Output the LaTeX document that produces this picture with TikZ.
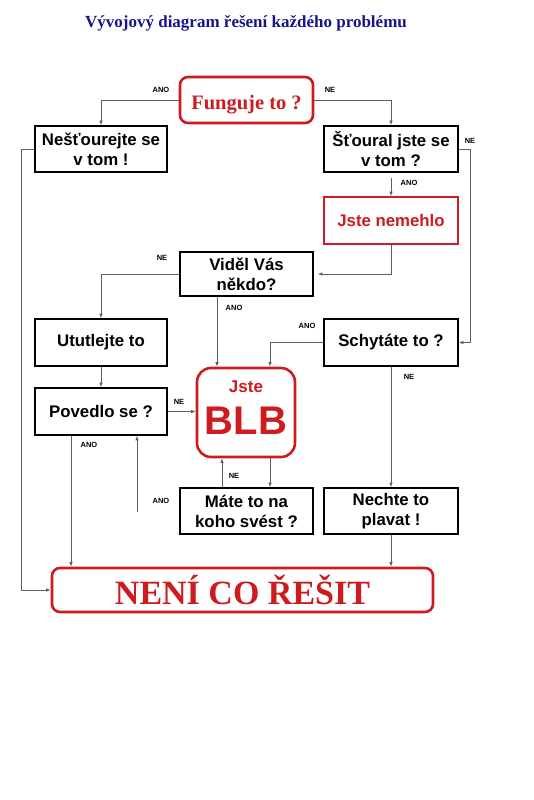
\documentclass[tikz,border=0pt]{standalone}
\usepackage{fontspec}
\setmainfont{Liberation Serif}
\setsansfont{Liberation Sans}
\usetikzlibrary{arrows.meta,calc}
\definecolor{myred}{RGB}{205,28,32}
\definecolor{myblue}{RGB}{22,22,140}
\definecolor{linegray}{RGB}{95,95,95}
\tikzset{
  box/.style={draw=black,line width=1.6pt,inner sep=0pt,align=center,
    font=\sffamily\bfseries\fontsize{16.8}{20}\selectfont},
  redbox/.style={draw=myred,line width=1.6pt,inner sep=0pt,align=center,text=myred,
    font=\sffamily\bfseries\fontsize{16.8}{20}\selectfont},
  roundred/.style={draw=myred,line width=2.6pt,rounded corners=8pt,inner sep=0pt,align=center,text=myred},
  conn/.style={draw=linegray,line width=0.8pt,-{Latex[length=4.5pt,width=3.5pt]}},
  lbl/.style={font=\sffamily\bfseries\fontsize{7.5}{8}\selectfont,inner sep=0pt}
}
\begin{document}
\begin{tikzpicture}[x=1pt,y=-1pt]
\useasboundingbox[fill=white] (0,0) rectangle (533,800);
\node[font=\rmfamily\bfseries\fontsize{17}{20}\selectfont,text=myblue] (title) at (246,23) {Vývojový diagram řešení každého problému};

\node[roundred,minimum width=133pt,minimum height=46pt,text height=21pt,text depth=2pt,font=\rmfamily\bfseries\fontsize{20.5}{24}\selectfont] (fung) at (246.5,100) {Funguje to ?};
\node[box,minimum width=132pt,minimum height=46pt] (nest) at (101,149) {Nešťourejte se\\v tom !};
\node[box,minimum width=134pt,minimum height=46pt] (stour) at (391,149) {Šťoural jste se\\v tom ?};
\node[redbox,minimum width=134pt,minimum height=47pt] (nemehlo) at (391,220.5) {Jste nemehlo};
\node[box,minimum width=133pt,minimum height=44pt] (videl) at (246.5,274) {Viděl Vás\\někdo?};
\node[box,minimum width=132pt,minimum height=47pt] (ututl) at (101,342.5) {Ututlejte to};
\node[box,minimum width=134pt,minimum height=47pt] (schyt) at (391,342.5) {Schytáte to ?};
\node[roundred,rounded corners=14pt,minimum width=98pt,minimum height=89pt,text depth=9pt,font=\sffamily\bfseries\fontsize{40}{42}\selectfont] (blb) at (246,412.5) {{\fontsize{17}{18}\selectfont Jste}\\BLB};
\node[box,minimum width=132pt,minimum height=47pt] (povedlo) at (101,411.5) {Povedlo se ?};
\node[box,minimum width=133pt,minimum height=46pt] (mate) at (246.5,511) {Máte to na\\koho svést ?};
\node[box,minimum width=134pt,minimum height=46pt] (nechte) at (391,511) {Nechte to\\plavat !};
\node[roundred,minimum width=381pt,minimum height=44pt,font=\rmfamily\bfseries\fontsize{34}{36}\selectfont] (neni) at (242.5,590) {NENÍ CO ŘEŠIT};

\coordinate (mateano) at (137,512);

% connectors
\draw[conn] (fung.west) -| (nest.north);
\draw[conn] (fung.east) -| (stour.north);
\draw[conn,shorten <=5pt] (stour.south) -- (nemehlo.north);
\draw[conn] (stour.east) -- ++(12,0) |- (schyt.east);
\draw[conn,shorten >=4pt] (nemehlo.south) |- (videl.east);
\draw[conn] (videl.west) -| (ututl.north);
\draw[conn] ([xshift=-29.5pt]videl.south) -- ([xshift=-29.5pt]videl.south |- blb.north);
\draw[conn] (schyt.west) -| ([xshift=24pt]blb.north);
\draw[conn] (schyt.south) -- (nechte.north);
\draw[conn] (ututl.south) -- (povedlo.north);
\draw[conn] (povedlo.east) -- (povedlo.east -| blb.west);
\draw[conn] ([xshift=-30pt]povedlo.south) -- ([xshift=-30pt]povedlo.south |- neni.north);
\draw[conn] (mateano) -- (mateano |- povedlo.south);
\draw[conn] ([xshift=-24.5pt]mate.north) -- ([xshift=-24.5pt]mate.north |- blb.south);
\draw[conn] ([xshift=24pt]blb.south) -- ([xshift=24pt]blb.south |- mate.north);
\draw[conn] (nechte.south) -- (nechte.south |- neni.north);
\draw[conn] (nest.west) -- ++(-13,0) |- (neni.west);

% labels
\node[lbl] (l1) at (161,90) {ANO};
\node[lbl] (l2) at (330,90) {NE};
\node[lbl] (l3) at (409,183) {ANO};
\node[lbl] (l4) at (470,141) {NE};
\node[lbl] (l5) at (162,258) {NE};
\node[lbl] (l6) at (234,308) {ANO};
\node[lbl] (l7) at (307,326) {ANO};
\node[lbl] (l8) at (409,377) {NE};
\node[lbl] (l9) at (179,402) {NE};
\node[lbl] (l10) at (89,445) {ANO};
\node[lbl] (l11) at (161,501) {ANO};
\node[lbl] (l12) at (234,476) {NE};
\end{tikzpicture}
\end{document}
